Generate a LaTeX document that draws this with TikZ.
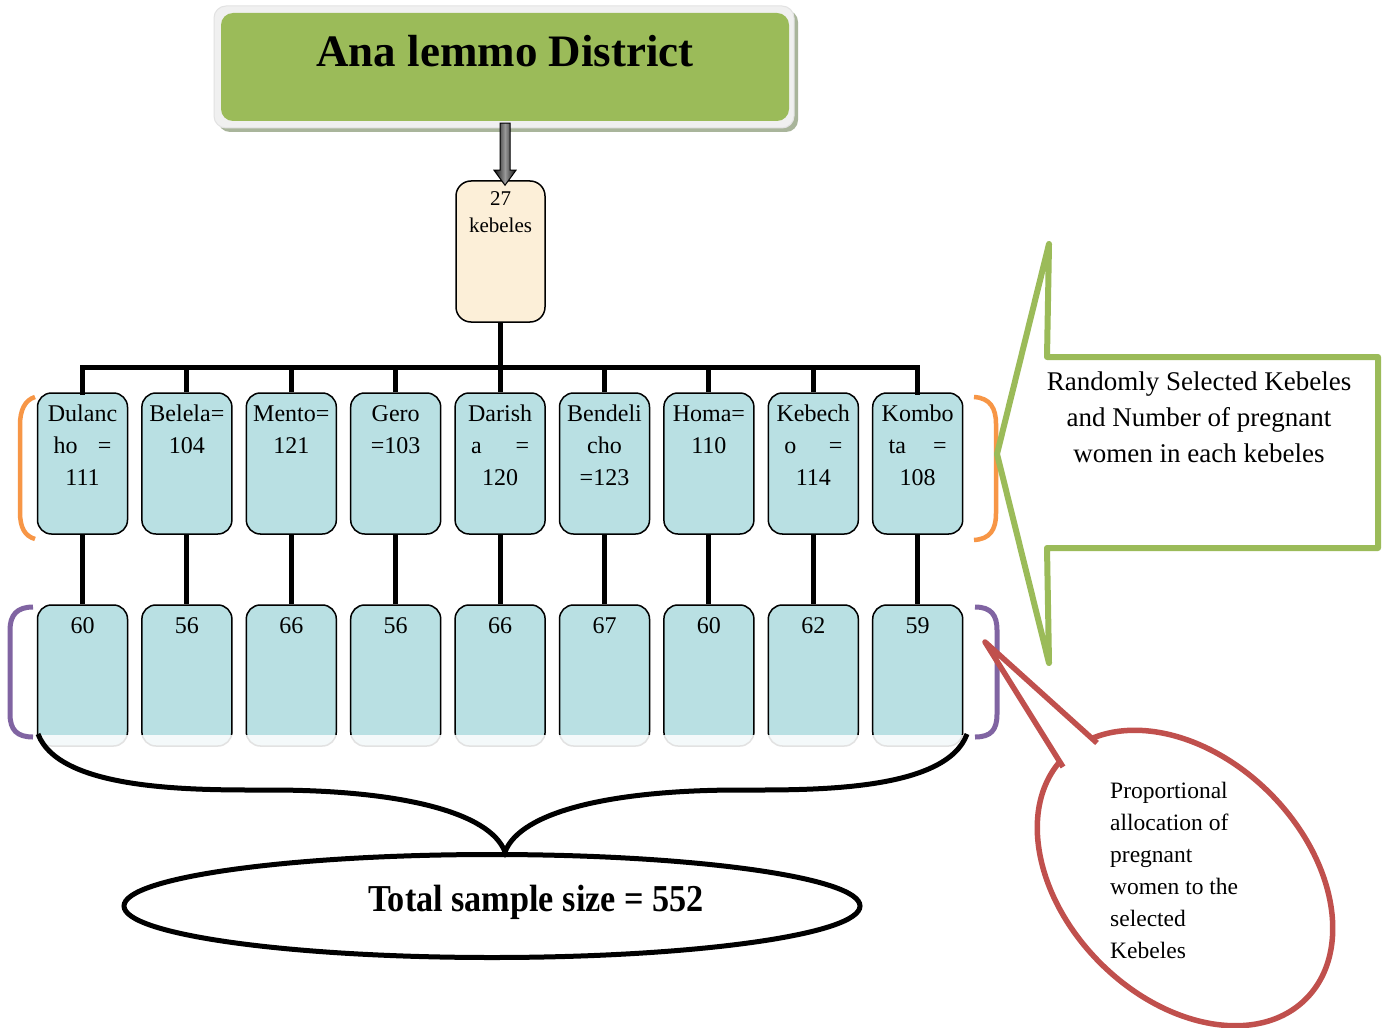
\documentclass[tikz,border=0pt]{standalone}
\usepackage{fontspec}
\usepackage{graphicx}
\setmainfont{Liberation Serif}
\usetikzlibrary{shapes.geometric,calc}
\definecolor{kblue}{HTML}{B9E0E3}
\definecolor{cream}{HTML}{FCEFD8}
\definecolor{dgreen}{HTML}{9BBB59}
\definecolor{orng}{HTML}{F79646}
\definecolor{purp}{HTML}{8064A2}
\definecolor{redc}{HTML}{C0504D}
\definecolor{frame}{HTML}{F0F0F0}
\definecolor{shadowc}{HTML}{A9B59B}
\definecolor{faintf}{HTML}{F4F9FA}
\definecolor{faintd}{HTML}{E2E2E2}
\newcommand{\jl}[2]{\makebox[58pt]{#1\hfill#2}}
\begin{document}
\begin{tikzpicture}[x=1pt,y=-1pt,
  conn/.style={draw=black, line width=5pt},
  kbox/.style={shape=rectangle, draw=black, line width=1.5pt, fill=kblue, rounded corners=14pt, minimum width=90pt, minimum height=141pt, inner sep=0pt},
  fbox/.style={shape=rectangle, draw=faintd, line width=1.5pt, fill=faintf, rounded corners=14pt, minimum width=90pt, minimum height=141pt, inner sep=0pt},
  ktext/.style={font=\fontsize{24}{32}\selectfont, align=center, inner sep=0pt, anchor=north},
  ntext/.style={font=\fontsize{24}{32}\selectfont, inner sep=0pt, anchor=base},
  obr/.style={draw=orng, line width=4.5pt},
  pbr/.style={draw=purp, line width=5pt},
]
\useasboundingbox[fill=white] (0,0) rectangle (1388,1027);

% title box
\fill[shadowc, rounded corners=12pt] (218,10) rectangle (798,132);
\path[fill=frame, draw=faintd, line width=1pt, rounded corners=12pt] (214,6) rectangle (794,128);
\node[shape=rectangle, fill=dgreen, rounded corners=12pt, minimum width=568pt, minimum height=108pt, inner sep=0pt] (title) at (505,67) {};
\node[font=\fontsize{45}{54}\selectfont\bfseries, inner sep=0pt, anchor=base] (titletxt) at (505,67) {Ana lemmo District};

% 27 kebeles box
\node[shape=rectangle, draw=black, line width=1.5pt, fill=cream, rounded corners=15pt, minimum width=89pt, minimum height=141pt, inner sep=0pt] (k27) at (500.5,251.5) {};
\node[font=\fontsize{21}{27}\selectfont, align=center, inner sep=0pt, anchor=north] (k27t) at (500.5,186) {\strut 27\\kebeles};

% arrow
\path[draw=black, line width=1pt, left color=black!95, right color=black!95, middle color=black!40]
  ($(title.south)+(-5,2)$) -- ($(title.south)+(5,2)$) -- ($(title.south)+(5,49)$) -- ($(title.south)+(11,49)$)
  -- ($(k27.north)+(4.5,5)$) -- ($(title.south)+(-11,49)$) -- ($(title.south)+(-5,49)$) -- cycle;

% kebele boxes
\foreach \i in {1,...,9} {
  \pgfmathsetmacro\xx{82.5+104.4*(\i-1)}
  \node[kbox] (k\i) at (\xx,463.5) {};
  \node[fbox] (f\i) at (\xx,675.5) {};
}
\begin{scope}
  \clip (0,590) rectangle (1388,734);
  \foreach \i in {1,...,9} {
    \pgfmathsetmacro\xx{82.5+104.4*(\i-1)}
    \node[kbox] (b\i) at (\xx,675.5) {};
  }
\end{scope}

% bus connectors
\coordinate (bus) at (500.5,367);
\draw[conn] (k27.south) -- (bus);
\draw[conn, line cap=rect] (k1.north) -- (k1.north |- bus) -- (k9.north |- bus) -- (k9.north);
\foreach \i in {2,...,8} { \draw[conn] (k\i.north) -- (k\i.north |- bus); }
\foreach \i in {1,...,9} { \draw[conn] (k\i.south) -- (b\i.north); }

% kebele labels
\node[ktext] (t1) at (k1.north |- 0,398.6) {\strut Dulanc\\\jl{ho}{=}\\111};
\node[ktext] (t2) at (k2.north |- 0,398.6) {\strut Belela=\\104};
\node[ktext] (t3) at (k3.north |- 0,398.6) {\strut Mento=\\121};
\node[ktext] (t4) at (k4.north |- 0,398.6) {\strut Gero\\=103};
\node[ktext] (t5) at (k5.north |- 0,398.6) {\strut Darish\\\jl{a}{=}\\120};
\node[ktext] (t6) at (k6.north |- 0,398.6) {\strut Bendeli\\cho\\=123};
\node[ktext] (t7) at (k7.north |- 0,398.6) {\strut Homa=\\110};
\node[ktext] (t8) at (k8.north |- 0,398.6) {\strut Kebech\\\jl{o}{=}\\114};
\node[ktext] (t9) at (k9.north |- 0,398.6) {\strut Kombo\\\jl{ta}{=}\\108};

% numbers
\foreach \i/\n in {1/60,2/56,3/66,4/56,5/66,6/67,7/60,8/62,9/59} {
  \node[ntext] (n\i) at (b\i.north |- 0,633) {\n};
}

% orange brackets
\draw[obr] (35,397) .. controls (25,400) and (20,410) .. (20,425) -- (20,512) .. controls (20,528) and (25,536) .. (35,539);
\draw[obr] (974,397) .. controls (990,398) and (996,408) .. (996,424) -- (996,513) .. controls (996,530) and (990,539) .. (974,540);
% purple brackets
\draw[pbr] (33,607) .. controls (17,607) and (10,615) .. (10,630) -- (10,714) .. controls (10,730) and (17,737) .. (33,737);
\draw[pbr] (975,607) .. controls (991,607) and (997,615) .. (997,630) -- (997,714) .. controls (997,730) and (991,737) .. (975,737);

% green callout
\draw[draw=dgreen, line width=6pt, line join=round] (1047,357) -- (1378,357) -- (1378,548) -- (1047,548) -- (1049,663) -- (997,454) -- (1049,244) -- cycle;
\node[font=\fontsize{27}{36}\selectfont, align=center, inner sep=0pt, anchor=north] (gtxt) at (1199,365) {\strut Randomly Selected Kebeles\\and Number of pregnant\\women in each kebeles};

% brace to total
\coordinate (bl) at (38,734);
\coordinate (br) at (967,734);
\coordinate (tip) at (505,852);
\draw[line width=5pt] (bl) .. controls (60,792) and (200,790) .. (270,790) .. controls (400,790) and (490,812) .. (tip)
  .. controls (520,812) and (610,790) .. (740,790) .. controls (810,790) and (946,792) .. (br);

% total ellipse
\node[shape=ellipse, draw=black, line width=5pt, minimum width=736pt, minimum height=103pt, inner sep=0pt] (tot) at (492,906) {};
\node[inner sep=0pt, anchor=base] (tottxt) at (536,911) {\scalebox{0.9}[1]{\fontsize{38}{44}\selectfont\bfseries Total sample size = 552}};

% red speech bubble
\draw[draw=redc, line width=5.5pt, fill=white, rotate around={-45:(1185,878)}] (1185,878) ellipse [x radius=171, y radius=120];
\fill[white] (1097,743) -- (985,642) -- (1063,767) -- (1078,772) -- (1104,752) -- cycle;
\coordinate (rtip) at (985,642);
\draw[draw=redc, line width=5.5pt, line join=round] (1097,743) -- (rtip) -- (1063,767);
\node[font=\fontsize{23.5}{32}\selectfont, align=left, inner sep=0pt, anchor=north west] (rtxt) at (1110,775.6) {\strut Proportional\\allocation of\\pregnant\\women to the\\selected\\Kebeles};
\end{tikzpicture}
\end{document}
